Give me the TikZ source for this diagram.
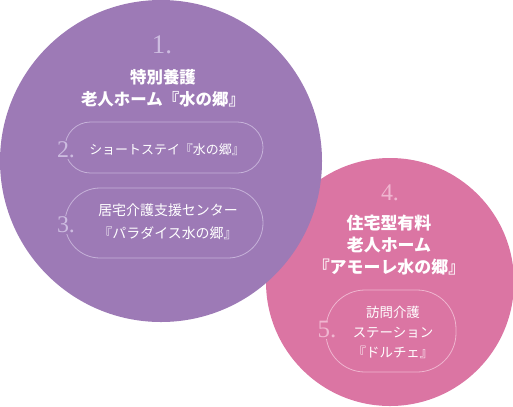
\documentclass[tikz,border=0pt]{standalone}
\usepackage{fontspec}
\newfontfamily\jp{Noto Sans CJK JP}
\newfontfamily\numf{Liberation Serif}
\definecolor{purp}{HTML}{9D7AB6}
\definecolor{pnk}{HTML}{DB75A3}
\definecolor{purpline}{HTML}{C6B2D9}
\definecolor{purpnum}{HTML}{CDBCE0}
\definecolor{pnkline}{HTML}{EFB5CF}
\definecolor{pnknum}{HTML}{F0B6D0}
\tikzset{
  title/.style={text=white, font=\jp\bfseries\fontsize{16.5}{22}\selectfont, align=center, inner sep=0pt},
  sub/.style={text=white, font=\jp\fontsize{13}{22}\selectfont, align=center, inner sep=0pt},
  pbox/.style={draw=purpline, line width=0.8pt, rectangle, inner sep=0pt},
  kbox/.style={draw=pnkline, line width=0.8pt, rectangle, inner sep=0pt},
  pnum/.style={text=purpnum, font=\numf\fontsize{24}{24}\selectfont, fill=purp, inner sep=1pt},
  knum/.style={text=pnknum, font=\numf\fontsize{25}{25}\selectfont, fill=pnk, inner sep=1pt},
}
\begin{document}
\begin{tikzpicture}[x=1bp,y=-1bp]
\useasboundingbox (0,0) rectangle (513,406);
% circles
\fill[pnk] (390,282) circle (124);
\fill[purp] (161,161) circle (161);
% purple circle content
\node[text=purpnum, font=\numf\fontsize{27}{27}\selectfont, inner sep=0pt] (n1) at (162,45) {1.};
\node[title] (t1) at (163,88) {特別養護\\老人ホーム『水の郷』};
\node[pbox, minimum width=198bp, minimum height=51bp, rounded corners=25.5bp] (b2) at (164,147.5) {};
\node[sub, font=\jp\fontsize{13}{22}\selectfont] (t2) at (167,150) {ショートステイ『水の郷』};
\node[pnum] (n2) at (66,150) {2.};
\node[pbox, minimum width=198bp, minimum height=70bp, rounded corners=35bp] (b3) at (164,223) {};
\node[sub, font=\jp\fontsize{14}{23}\selectfont] (t3) at (168,222) {居宅介護支援センター\\『パラダイス水の郷』};
\node[pnum] (n3) at (66,225) {3.};
% pink circle content
\node[text=pnknum, font=\numf\fontsize{24}{24}\selectfont, inner sep=0pt] (n4) at (390,193) {4.};
\node[title, font=\jp\bfseries\fontsize{17}{22.5}\selectfont] (t4) at (389,245) {住宅型有料\\老人ホーム\\『アモーレ水の郷』};
\node[kbox, minimum width=130bp, minimum height=82bp, rounded corners=39bp] (b5) at (391,331) {};
\node[sub, font=\jp\fontsize{13.5}{20}\selectfont] (t5) at (393,332) {訪問介護\\ステーション\\『ドルチェ』};
\node[knum] (n5) at (327,330) {5.};
\end{tikzpicture}
\end{document}
